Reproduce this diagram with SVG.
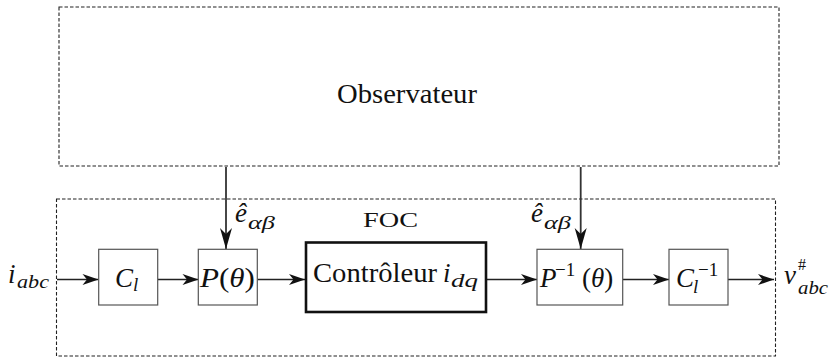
<svg xmlns="http://www.w3.org/2000/svg" width="831" height="358" viewBox="0 0 831 358">
<defs>
<style>
.dash{fill:none;stroke:#222;stroke-width:1.1;stroke-dasharray:3.5,2}
.box{fill:#fff;stroke:#555;stroke-width:1.2}
.thick{fill:#fff;stroke:#111;stroke-width:2.6}
.wire{fill:none;stroke:#222;stroke-width:1.3}
.vwire{fill:none;stroke:#333;stroke-width:1.8}
text{fill:#111}
.m{font-style:italic}
.rm{font-style:normal}
.big{font-size:27px}
.sub{font-size:19px}
</style>
<marker id="ah" markerUnits="userSpaceOnUse" markerWidth="20" markerHeight="14" viewBox="-18 -7 20 14" refX="0" refY="0" orient="auto">
<path d="M0,0 L-16,-5.5 L-11.5,0 L-16,5.5 Z" fill="#111"/>
</marker>
<marker id="ahv" markerUnits="userSpaceOnUse" markerWidth="24" markerHeight="16" viewBox="-22 -8 24 16" refX="0" refY="0" orient="auto">
<path d="M0,0 L-21,-6 L-15,0 L-21,6 Z" fill="#111"/>
</marker>
</defs>

<g font-family="'Liberation Serif', 'DejaVu Serif', serif">

<g id="observateur">
<rect class="dash" x="59" y="7" width="720" height="159"/>
<text class="big" x="337" y="103" textLength="140" lengthAdjust="spacingAndGlyphs">Observateur</text>
</g>

<g id="foc">
<rect class="dash" x="56.5" y="199" width="719" height="157"/>
<text x="363" y="227" font-size="21" textLength="55" lengthAdjust="spacingAndGlyphs">FOC</text>
</g>

<g id="connectors">
<line class="wire" x1="57" y1="279.5" x2="98.5" y2="279.5" marker-end="url(#ah)"/>
<line class="wire" x1="158" y1="279.5" x2="198.5" y2="279.5" marker-end="url(#ah)"/>
<line class="wire" x1="257.5" y1="279.5" x2="305" y2="279.5" marker-end="url(#ah)"/>
<line class="wire" x1="487" y1="279.5" x2="537" y2="279.5" marker-end="url(#ah)"/>
<line class="wire" x1="623" y1="279.5" x2="669" y2="279.5" marker-end="url(#ah)"/>
<line class="wire" x1="728" y1="279.5" x2="774" y2="279.5" marker-end="url(#ah)"/>
<line class="vwire" x1="226" y1="167" x2="226" y2="249" marker-end="url(#ahv)"/>
<line class="vwire" x1="580.7" y1="167" x2="580.7" y2="249" marker-end="url(#ahv)"/>
</g>

<g id="input">
<text class="m"><tspan class="big" x="8" y="283">i</tspan><tspan class="sub" x="17" y="288" textLength="32" lengthAdjust="spacingAndGlyphs">abc</tspan></text>
</g>

<g id="cl">
<rect class="box" x="98.7" y="249.3" width="59" height="55.7"/>
<text class="m"><tspan class="big" x="115" y="287">C</tspan><tspan class="sub" x="133" y="291">l</tspan></text>
</g>

<g id="p">
<rect class="box" x="198.3" y="249.3" width="59" height="55.7"/>
<text class="big" x="200" y="287" textLength="55" lengthAdjust="spacingAndGlyphs"><tspan class="m">P</tspan><tspan class="rm">(</tspan><tspan class="m">θ</tspan><tspan class="rm">)</tspan></text>
</g>

<g id="ehat1">
<text class="m"><tspan class="big" x="235" y="222">ê</tspan><tspan class="sub" x="248" y="229" textLength="27" lengthAdjust="spacingAndGlyphs">αβ</tspan></text>
</g>

<g id="controleur">
<rect class="thick" x="306" y="242.5" width="180" height="69.5"/>
<text class="big" x="313" y="282" textLength="124" lengthAdjust="spacingAndGlyphs">Contrôleur</text>
<text class="m"><tspan class="big" x="443" y="282">i</tspan><tspan class="sub" x="451" y="287" textLength="27" lengthAdjust="spacingAndGlyphs">dq</tspan></text>
</g>

<g id="ehat2">
<text class="m"><tspan class="big" x="531" y="222">ê</tspan><tspan class="sub" x="544" y="229" textLength="27" lengthAdjust="spacingAndGlyphs">αβ</tspan></text>
</g>

<g id="pinv">
<rect class="box" x="537" y="249.3" width="85.7" height="55.7"/>
<text class="big"><tspan class="m" x="540" y="287">P</tspan><tspan class="sub rm" x="555" y="276">−1</tspan><tspan class="rm" x="582" y="287">(</tspan><tspan class="m">θ</tspan><tspan class="rm">)</tspan></text>
</g>

<g id="clinv">
<rect class="box" x="669" y="249.3" width="59" height="55.7"/>
<text class="m"><tspan class="big" x="676" y="287">C</tspan><tspan class="sub rm" x="698" y="276">−1</tspan><tspan class="sub" x="693" y="293">l</tspan></text>
</g>

<g id="output">
<text class="m"><tspan class="big" x="784" y="284">v</tspan><tspan class="rm" font-size="16" x="798" y="270">#</tspan><tspan class="sub" x="798" y="294" textLength="30" lengthAdjust="spacingAndGlyphs">abc</tspan></text>
</g>

</g>
</svg>
